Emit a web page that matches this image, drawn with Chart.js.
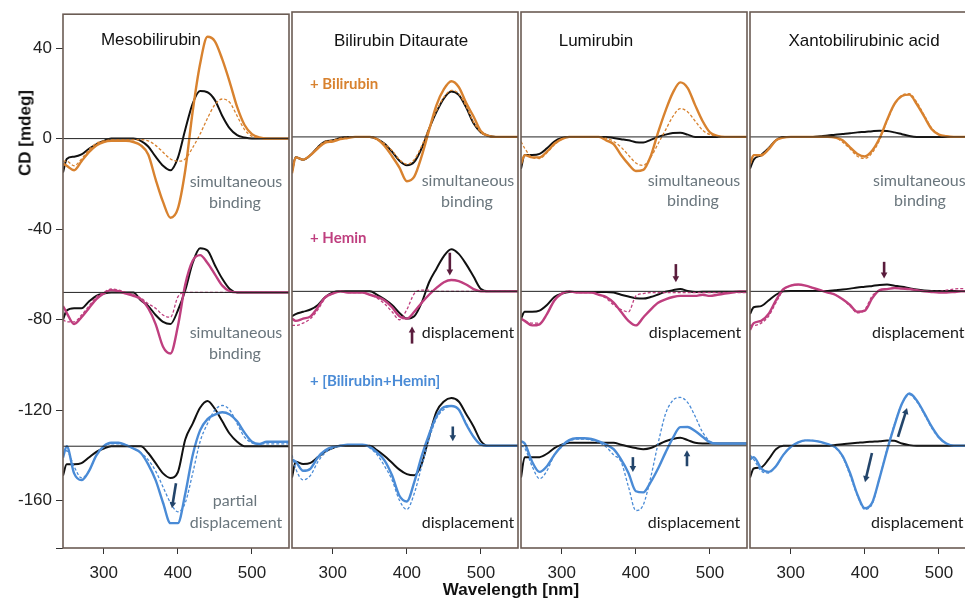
<!DOCTYPE html>
<html><head><meta charset="utf-8">
<script src="https://cdn.jsdelivr.net/npm/chart.js@4.4.1/dist/chart.umd.min.js"></script>
<style>
html,body{margin:0;padding:0;background:#fff;overflow:hidden;width:965px;height:600px;position:relative;}
canvas{position:absolute;top:0;}
.t{position:absolute;white-space:nowrap;transform:translate(-50%,-50%);line-height:1;}
.l{position:absolute;white-space:nowrap;transform:translate(0,-50%);line-height:1;}
.ar{font-family:"Liberation Sans",Arial,sans-serif;font-size:17px;color:#111;}
.cal{font-family:Lato,"Open Sans",sans-serif;font-size:16px;}
.g{color:#6a767d;}
.k{color:#1a1a1a;}
.b{font-weight:bold;}
</style></head>
<body>
<canvas id="c0" width="292" height="600" style="left:0px"></canvas>
<canvas id="c1" width="233" height="600" style="left:289px"></canvas>
<canvas id="c2" width="233" height="600" style="left:518px"></canvas>
<canvas id="c3" width="233" height="600" style="left:747px"></canvas>

<div class="t ar b" style="left:25px;top:133px;transform:translate(-50%,-50%) rotate(-90deg);">CD [mdeg]</div>
<div class="t ar b" style="left:511px;top:589px;">Wavelength [nm]</div>

<div class="t ar" style="left:151px;top:39px;">Mesobilirubin</div>
<div class="t ar" style="left:401px;top:40px;">Bilirubin Ditaurate</div>
<div class="t ar" style="left:596px;top:40px;">Lumirubin</div>
<div class="t ar" style="left:864px;top:40px;">Xantobilirubinic acid</div>

<div class="l cal b" style="left:310px;top:83px;font-size:15px;color:#d8822f;">+ Bilirubin</div>
<div class="l cal b" style="left:310px;top:237px;font-size:15px;color:#bf3f7f;">+ Hemin</div>
<div class="l cal b" style="left:310px;top:380px;font-size:15px;color:#4a8bd6;">+ [Bilirubin+Hemin]</div>

<div class="t cal g" style="left:236px;top:181px;">simultaneous</div>
<div class="t cal g" style="left:235px;top:202px;">binding</div>
<div class="t cal g" style="left:236px;top:332px;">simultaneous</div>
<div class="t cal g" style="left:235px;top:353px;">binding</div>
<div class="t cal g" style="left:235px;top:500px;">partial</div>
<div class="t cal g" style="left:236px;top:522px;">displacement</div>

<div class="t cal g" style="left:468px;top:180px;">simultaneous</div>
<div class="t cal g" style="left:467px;top:201px;">binding</div>
<div class="t cal k" style="left:468px;top:332px;">displacement</div>
<div class="t cal k" style="left:468px;top:522px;">displacement</div>

<div class="t cal g" style="left:694px;top:180px;">simultaneous</div>
<div class="t cal g" style="left:693px;top:200px;">binding</div>
<div class="t cal k" style="left:695px;top:332px;">displacement</div>
<div class="t cal k" style="left:694px;top:522px;">displacement</div>

<div class="l cal g" style="left:873px;top:180px;">simultaneous</div>
<div class="t cal g" style="left:920px;top:200px;">binding</div>
<div class="l cal k" style="left:872px;top:332px;">displacement</div>
<div class="l cal k" style="left:871px;top:522px;">displacement</div>

<script>
// ---------- data ----------
const wavelengths = [245,250,260,270,280,290,300,310,320,330,340,350,360,370,380,390,400,410,420,430,440,450,460,470,480,490,500,510,520,530,540,550];
const xTicks = [300,400,500];
const yTicks = [40,0,-40,-80,-120,-160];
const baselineLevels = [0,-68,-136];

// Mesobilirubin
const mesoBiliSolid = [-11,-12,-14,-10,-6,-3,-1.5,-1,-1,-1,-1.5,-3,-7,-18,-28,-35,-31,-14,12,33,45,43,35,25,14,6,2,0.5,0,0,0,0];
const mesoBiliDash  = [-10,-10,-12,-9,-5,-2,-1,-0.5,-0.5,-0.5,-0.5,-0.5,-1,-3,-6,-9,-10,-9,-4,2,9,15,17.5,16,10,4,1,0.3,0,0,0,0];
const mesoBiliBlack = [-15,-9,-8,-7,-4.5,-2.5,-1,0,0,0,0,-1,-3.5,-8,-12,-14,-8.5,4,15.5,21,20.5,17,10,4.5,1.5,0.5,0,0,0,0,0,0];
const mesoHemSolid  = [-74,-77,-82,-79,-75,-71,-68.5,-67,-67.5,-68.5,-69.5,-71,-75,-82,-92,-95,-83,-64.5,-54,-51.5,-55,-60,-65,-67.5,-68,-68,-68,-68,-68,-68,-68,-68];
const mesoHemDash   = [-80,-81,-81,-78,-74,-70,-68,-66.5,-67,-68,-69,-70.5,-73,-75,-78,-79,-70,-68,-68,-68,-68,-68,-68,-68,-68,-68,-68,-68,-68,-68,-68,-68];
const mesoHemBlack  = [-80,-76,-75,-75,-72,-69.5,-68.5,-68,-68,-68,-68,-71.5,-74,-78,-81,-82,-76,-67,-55,-48.5,-49.5,-56,-62,-66.5,-68,-68,-68,-68,-68,-68,-68,-68];
const mesoMixSolid  = [-141,-136,-148,-151,-147,-140,-136,-134.5,-134.5,-135.5,-137,-139,-144,-151,-161,-170,-170,-157,-140,-129,-124,-122,-121,-122,-125,-130,-134,-135,-134,-134,-134,-134];
const mesoMixDash   = [-140,-138,-145,-150,-147,-140,-136,-135,-135,-135.5,-137,-139,-142,-147,-154,-161,-165,-161,-148,-134,-126,-120,-118,-120,-126,-132,-134.5,-135,-135,-135,-135,-135];
const mesoMixBlack  = [-149,-144,-144,-143.5,-141,-138.5,-137,-136,-136,-136,-136,-136,-139,-143.5,-148,-150,-147.5,-133,-126,-119,-116,-119.5,-125,-130.5,-134,-136,-136,-136,-136,-136,-136,-136];

// Bilirubin Ditaurate
const ditBiliSolid = [-16,-9,-10,-8,-5,-2.5,-2,-1,-0.5,0,0,0,-1,-4,-8.5,-13.5,-19.5,-17.5,-8.5,3,14,21,24.5,22,15,9,2.5,0.5,0,0,0,0];
const ditBiliDash  = [-15,-9,-10,-8,-4.5,-2,-1.5,-0.5,0,0,0,0,-1,-3,-6,-10,-12,-10,-4,4,11.5,17.5,20.5,19,13.5,6.5,2,0.5,0,0,0,0];
const ditBiliBlack = [-15,-9,-10,-8,-4.5,-2,-1.5,-0.5,0,0,0,0,-1,-3,-6.5,-10.5,-12.5,-11,-5,3.5,11,17,20,18.5,13,6,2,0.5,0,0,0,0];
const ditHemSolid  = [-80,-81,-80,-79,-75,-70.5,-69,-68,-68.5,-68.5,-68.5,-69.5,-70.5,-72,-75,-79,-80,-77,-73,-69.5,-66.5,-64,-63,-63.5,-65,-67,-68,-68,-68,-68,-68,-68];
const ditHemDash   = [-83,-83,-82,-80,-76,-71,-69,-68,-68.5,-68.5,-68.5,-69.5,-71,-73.5,-77,-80.5,-76,-69,-67.5,-67.5,-68,-68,-68,-68,-68,-68,-68,-68,-68,-68,-68,-68];
const ditHemBlack  = [-79,-78,-77,-76,-74,-70.5,-68.5,-68,-68,-68,-68,-68,-69.5,-71.5,-74,-77.5,-80,-79,-73,-64,-58,-52.5,-49.5,-51.5,-56,-61.5,-67,-68,-68,-68,-68,-68];
const ditMixSolid  = [-142,-143,-147,-146,-141,-138,-136.5,-136,-135.5,-135.5,-135.5,-136.5,-139,-142.5,-149,-158,-160.5,-152,-140.5,-131,-123,-119,-118.5,-120,-126.5,-132,-135.5,-136,-136,-136,-136,-136];
const ditMixDash   = [-140,-146,-151,-149,-143,-139,-137,-136,-135.5,-135.5,-135.5,-137,-140,-145,-151,-160,-164,-157,-145,-133,-124,-120,-118.5,-120,-126,-132,-135.5,-136,-136,-136,-136,-136];
const ditMixBlack  = [-150,-143,-144,-143.5,-141,-138.5,-137,-136,-136,-136,-136,-136,-138,-140.5,-143.5,-146.5,-148.5,-149,-144,-132,-121,-116.5,-115,-116.5,-122,-127.5,-134,-136,-136,-136,-136,-136];

// Lumirubin
const lumiBiliSolid = [-12,-8,-9,-9,-6.5,-3,-1,0,0,0,0,0,-1.5,-3.2,-8,-12,-15,-14.5,-8.5,2,11.5,19.5,24,21.5,14,7,2,0.5,0,0,0,0];
const lumiBiliDash  = [-2,-5,-9,-9.5,-7,-3.5,-1,0,0,0,0,0,-0.5,-2,-4.5,-8,-11.5,-12.5,-9,-3,3,9,12.5,11,7,3,1,0.3,0,0,0,0];
const lumiBiliBlack = [-14,-8,-8,-7.5,-5,-2,-0.5,0,0,0,0,0,0,-0.5,-1,-1.5,-2.3,-2.5,-1.3,0,1,1.7,1.8,1,0,0,0,0,0,0,0,0];
const lumiHemSolid  = [-80,-81,-83,-82.5,-78,-72,-69,-68,-68.5,-68.5,-68.5,-69.5,-70.5,-73,-77,-81,-83,-79.5,-76,-73,-71.5,-70.5,-70,-70,-70,-69.5,-70,-69.5,-69,-68.5,-68,-68];
const lumiHemDash   = [-80,-81,-82,-82,-78,-72,-69,-68,-68.5,-68.5,-68.5,-69.5,-71,-74,-76,-77,-70,-69,-68.5,-68.5,-68.5,-68.5,-68.5,-68.5,-68.5,-68.5,-68.5,-68.5,-68.5,-68.5,-68.5,-68.5];
const lumiHemBlack  = [-80,-77,-77,-76.5,-74,-70.5,-69,-68.3,-68.3,-68.3,-68.3,-68.3,-68.3,-68.5,-69.5,-70.3,-71,-71.2,-70.5,-69.4,-68.2,-67.5,-67,-67.8,-68.3,-68.2,-68.2,-68.2,-68.2,-68.2,-68.2,-68.2];
const lumiMixSolid  = [-134,-135,-143,-147.5,-145,-140,-136,-133.5,-132.7,-132.7,-133,-134,-135.5,-137.5,-142,-148,-156,-156.5,-152,-146,-139,-132.5,-127.8,-127.7,-129.5,-132,-134.5,-135,-135,-135,-135,-135];
const lumiMixDash   = [-136,-137,-145,-150.5,-147,-140,-136.5,-134,-133,-133,-133.5,-134.5,-136.5,-140,-143,-154,-164.5,-162,-150,-135,-122,-116,-114.7,-117,-123,-130,-134,-135,-135,-135,-135,-135];
const lumiMixBlack  = [-150,-141,-141,-141,-139.5,-137,-135.5,-134.7,-134.7,-134.7,-134.7,-134.7,-134.7,-134.7,-135.5,-136.3,-137,-137.5,-137,-135.5,-134,-133,-132.5,-133.5,-134.7,-135,-135,-135,-135,-135,-135,-135];

// Xantobilirubinic acid
const xanBiliSolid = [-12,-8,-8,-5.5,-1.5,-0.3,0,0,0,0,0,0,-0.3,-1.5,-4.6,-7.5,-8.6,-6,-0.5,7.5,14.5,18,18.6,14.5,9,3.5,1,0.3,0,0,0,0];
const xanBiliDash  = [-11,-8,-8.5,-5,-1.5,-0.3,0,0,0,0,0,0,-0.3,-2.3,-5.2,-8.5,-9.5,-7,-1.3,7,14.3,18.3,19,15.3,9.6,4,1,0.3,0,0,0,0];
const xanBiliBlack = [-14,-10,-8,-5,-1.5,0,0,0,0,0,0.3,0.6,1,1.3,1.6,2,2.2,2.5,2.7,2.6,2,1.2,0.4,0,0,0,0,0,0,0,0,0];
const xanHemSolid  = [-85,-82,-81,-78,-72,-67,-65.5,-65,-65.5,-66.5,-67.5,-68.5,-69.5,-71.5,-74,-77,-76.5,-71,-67.5,-67,-66.5,-66.8,-67,-67.5,-68,-68.3,-68.5,-68.5,-68.3,-68,-68,-68];
const xanHemDash   = [-83,-83,-82,-79,-73,-67.5,-65.5,-65,-65.5,-66.5,-67.5,-68.5,-69.5,-71.5,-74.5,-77.5,-76,-70,-67.5,-67,-66.5,-66.8,-67,-67.5,-68,-68,-68,-67.5,-67,-66.8,-66.8,-67];
const xanHemBlack  = [-78,-75,-74.5,-72,-69.5,-68,-67.8,-67.8,-67.8,-67.8,-67.8,-67.8,-67.5,-67.2,-66.8,-66.3,-66,-65.6,-65.2,-65,-65.5,-66,-66.6,-67.2,-67.6,-67.8,-67.8,-67.8,-67.8,-67.8,-67.8,-67.8];
const xanMixSolid  = [-142,-141,-146,-147.5,-145,-140,-136.5,-134.5,-133.6,-133.7,-134.3,-135.3,-136.6,-140.5,-148,-157.5,-163.5,-161,-150,-138,-127,-117.5,-113,-116,-121.5,-127.5,-132.3,-135,-136,-136,-136,-136];
const xanMixDash   = [-140,-142,-147,-148,-145,-140,-136.5,-134.5,-133.6,-133.7,-134.3,-135.3,-136.8,-141,-149,-158,-164,-161.5,-150,-137.5,-126.5,-117.5,-113.5,-116.5,-122,-128,-132.5,-135,-136,-136,-136,-136];
const xanMixBlack  = [-150,-146,-145.5,-142,-137.5,-136,-136,-136,-136,-136,-136,-136,-135.6,-135.3,-135,-134.7,-134.4,-134.2,-134,-133.7,-133.8,-135,-135.7,-136,-136,-136,-136,-136,-136,-136,-136,-136];

// annotation arrows in data units: [x1, y1, x2, y2] (tail -> head)
const mesoArrows = [[397.5,-152.4,392,-163.4,'blue']];
const ditArrows  = [[458,-51,458,-61,'hem'],[407,-91,407,-83.5,'hem'],[462,-127.5,462,-134,'blue']];
const lumiArrows = [[454,-56,454,-64,'hem'],[396,-141,396,-147.5,'blue'],[469,-145,469,-138,'blue']];
const xanArrows  = [[426,-55,426,-62.3,'hem'],[409.6,-139.2,400.2,-152,'blue'],[444.7,-132.1,456.9,-119.4,'blue']];

// ---------- drawing ----------
const ORANGE = '#d8822f', PINK = '#bf3f7f', BLUE = '#4a8bd6', BLACK = '#111111';
const ARROW_COL = {hem:'#5a1c3c', blue:'#23456b'};

function pts(arr){ return wavelengths.map((w,i)=>({x:w,y:arr[i]})); }
function line(arr,color,width,dash){
  return {data:pts(arr),borderColor:color,borderWidth:width,borderDash:dash||[],pointRadius:0,fill:false,
          cubicInterpolationMode:'monotone'};
}
function baseLines(){
  return baselineLevels.map(v=>({data:[{x:245,y:v},{x:550,y:v}],borderColor:'#222',borderWidth:1,pointRadius:0,fill:false}));
}

const framePlugin = {
  id:'frame',
  afterDatasetsDraw(chart){
    const a = chart.chartArea, ctx = chart.ctx;
    ctx.save();
    ctx.strokeStyle = '#6b5c54';
    ctx.lineWidth = 1.6;
    ctx.strokeRect(a.left, a.top, a.right-a.left, a.bottom-a.top);
    ctx.restore();
  }
};
const arrowPlugin = {
  id:'arrows',
  afterDatasetsDraw(chart, args, opts){
    const xs = chart.scales.x, ys = chart.scales.y, ctx = chart.ctx;
    (opts.list||[]).forEach(a=>{
      const x1=xs.getPixelForValue(a[0]), y1=ys.getPixelForValue(a[1]);
      const x2=xs.getPixelForValue(a[2]), y2=ys.getPixelForValue(a[3]);
      const ang=Math.atan2(y2-y1,x2-x1), h=6;
      ctx.save();
      ctx.strokeStyle=ctx.fillStyle=ARROW_COL[a[4]];
      ctx.lineWidth=2.6;
      ctx.beginPath();
      ctx.moveTo(x1,y1);
      ctx.lineTo(x2-Math.cos(ang)*h*0.8,y2-Math.sin(ang)*h*0.8);
      ctx.stroke();
      ctx.beginPath();
      ctx.moveTo(x2,y2);
      ctx.lineTo(x2-h*Math.cos(ang)+h*0.55*Math.sin(ang), y2-h*Math.sin(ang)-h*0.55*Math.cos(ang));
      ctx.lineTo(x2-h*Math.cos(ang)-h*0.55*Math.sin(ang), y2-h*Math.sin(ang)+h*0.55*Math.cos(ang));
      ctx.closePath();
      ctx.fill();
      ctx.restore();
    });
  }
};

function makePanel(id, groups, arrows, showY, pad){
  const ds = baseLines();
  groups.forEach(g=>{
    ds.push(line(g[1],g[0],1.3,[3,2]));
    ds.push(line(g[2],g[0],2.4));
    ds.push(line(g[3],BLACK,2));
  });
  new Chart(document.getElementById(id),{
    type:'line',
    data:{datasets:ds},
    plugins:[framePlugin,arrowPlugin],
    options:{
      responsive:false, animation:false, devicePixelRatio:1,
      layout:{padding:{left:pad[0],right:pad[1],top:12,bottom:12}},
      plugins:{legend:{display:false},tooltip:{enabled:false},arrows:{list:arrows}},
      scales:{
        x:{type:'linear',min:245,max:550,
           afterBuildTicks:s=>{s.ticks=xTicks.map(v=>({value:v}));},
           afterFit:s=>{s.height=40;},
           grid:{drawOnChartArea:false,drawTicks:true,tickLength:6,color:'#333',lineWidth:1},
           border:{display:false},
           ticks:{color:'#222',padding:9,font:{family:'"Liberation Sans", Arial, sans-serif',size:17},maxRotation:0}},
        y:{type:'linear',min:-181,max:55,display:showY,
           afterBuildTicks:s=>{s.ticks=yTicks.concat([-181]).map(v=>({value:v}));},
           afterFit:s=>{s.width=showY?63:0;},
           grid:{drawOnChartArea:false,drawTicks:true,tickLength:7,color:'#333',lineWidth:1},
           border:{display:false},
           ticks:{color:'#222',padding:4,font:{family:'"Liberation Sans", Arial, sans-serif',size:17},
                  callback:v=>(v===-181?'':String(v))}}
      }
    }
  });
}

makePanel('c0',[[ORANGE,mesoBiliDash,mesoBiliSolid,mesoBiliBlack],[PINK,mesoHemDash,mesoHemSolid,mesoHemBlack],[BLUE,mesoMixDash,mesoMixSolid,mesoMixBlack]],mesoArrows,true,[0,3]);
makePanel('c1',[[ORANGE,ditBiliDash,ditBiliSolid,ditBiliBlack],[PINK,ditHemDash,ditHemSolid,ditHemBlack],[BLUE,ditMixDash,ditMixSolid,ditMixBlack]],ditArrows,false,[3,4]);
makePanel('c2',[[ORANGE,lumiBiliDash,lumiBiliSolid,lumiBiliBlack],[PINK,lumiHemDash,lumiHemSolid,lumiHemBlack],[BLUE,lumiMixDash,lumiMixSolid,lumiMixBlack]],lumiArrows,false,[3,4]);
makePanel('c3',[[ORANGE,xanBiliDash,xanBiliSolid,xanBiliBlack],[PINK,xanHemDash,xanHemSolid,xanHemBlack],[BLUE,xanMixDash,xanMixSolid,xanMixBlack]],xanArrows,false,[3,4]);
</script>
</body></html>
